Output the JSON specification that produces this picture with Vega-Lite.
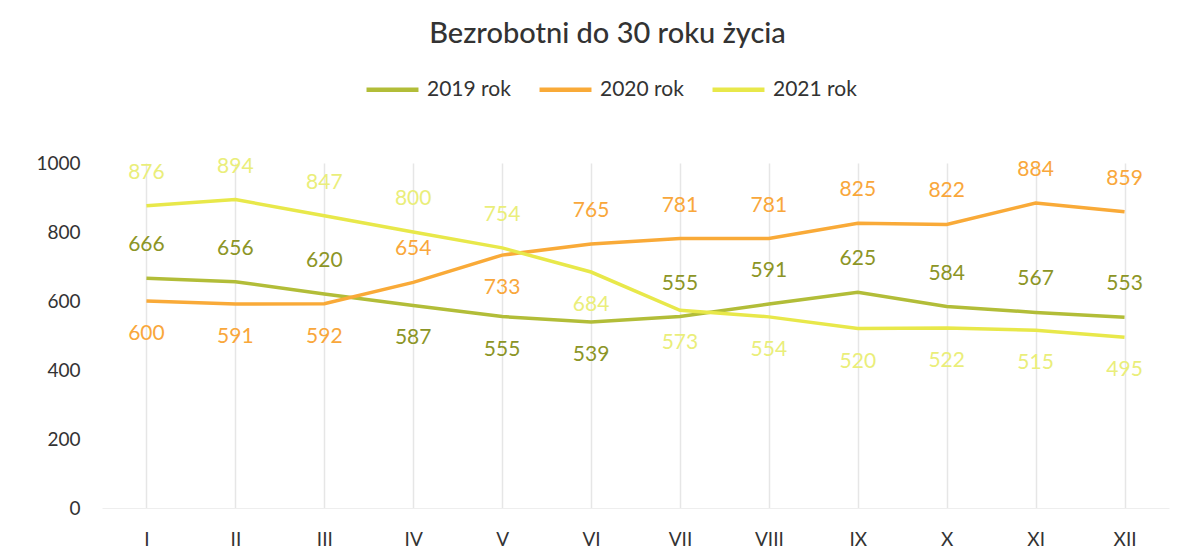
{
  "$schema": "https://vega.github.io/schema/vega-lite/v6.json",
  "autosize": "none",
  "width": 1067,
  "height": 345,
  "padding": {"left": 102, "top": 163, "right": 21, "bottom": 51},
  "background": "white",
  "title": {
    "text": "Bezrobotni do 30 roku życia",
    "font": "Lato",
    "fontSize": 29,
    "fontWeight": 500,
    "color": "#333333",
    "anchor": "middle",
    "frame": "group",
    "dx": -28,
    "offset": 12
  },
  "config": {
    "view": {"stroke": null},
    "font": "Lato"
  },
  "data": {
    "values": [
      {"month": "I", "series": "2019 rok", "value": 666},
      {"month": "II", "series": "2019 rok", "value": 656},
      {"month": "III", "series": "2019 rok", "value": 620},
      {"month": "IV", "series": "2019 rok", "value": 587},
      {"month": "V", "series": "2019 rok", "value": 555},
      {"month": "VI", "series": "2019 rok", "value": 539},
      {"month": "VII", "series": "2019 rok", "value": 555},
      {"month": "VIII", "series": "2019 rok", "value": 591},
      {"month": "IX", "series": "2019 rok", "value": 625},
      {"month": "X", "series": "2019 rok", "value": 584},
      {"month": "XI", "series": "2019 rok", "value": 567},
      {"month": "XII", "series": "2019 rok", "value": 553},
      {"month": "I", "series": "2020 rok", "value": 600},
      {"month": "II", "series": "2020 rok", "value": 591},
      {"month": "III", "series": "2020 rok", "value": 592},
      {"month": "IV", "series": "2020 rok", "value": 654},
      {"month": "V", "series": "2020 rok", "value": 733},
      {"month": "VI", "series": "2020 rok", "value": 765},
      {"month": "VII", "series": "2020 rok", "value": 781},
      {"month": "VIII", "series": "2020 rok", "value": 781},
      {"month": "IX", "series": "2020 rok", "value": 825},
      {"month": "X", "series": "2020 rok", "value": 822},
      {"month": "XI", "series": "2020 rok", "value": 884},
      {"month": "XII", "series": "2020 rok", "value": 859},
      {"month": "I", "series": "2021 rok", "value": 876},
      {"month": "II", "series": "2021 rok", "value": 894},
      {"month": "III", "series": "2021 rok", "value": 847},
      {"month": "IV", "series": "2021 rok", "value": 800},
      {"month": "V", "series": "2021 rok", "value": 754},
      {"month": "VI", "series": "2021 rok", "value": 684},
      {"month": "VII", "series": "2021 rok", "value": 573},
      {"month": "VIII", "series": "2021 rok", "value": 554},
      {"month": "IX", "series": "2021 rok", "value": 520},
      {"month": "X", "series": "2021 rok", "value": 522},
      {"month": "XI", "series": "2021 rok", "value": 515},
      {"month": "XII", "series": "2021 rok", "value": 495}
    ]
  },
  "encoding": {
    "x": {
      "field": "month",
      "type": "ordinal",
      "sort": ["I","II","III","IV","V","VI","VII","VIII","IX","X","XI","XII"],
      "scale": {"type": "point", "padding": 0.5},
      "axis": {
        "title": null,
        "labelAngle": 0,
        "labelFontSize": 19,
        "labelColor": "#333333",
        "labelPadding": 22,
        "ticks": false,
        "domain": true,
        "domainColor": "#eeeeee",
        "grid": true,
        "gridColor": "#e6e6e6",
        "gridWidth": 1.5
      }
    },
    "y": {
      "field": "value",
      "type": "quantitative",
      "scale": {"domain": [0, 1000]},
      "axis": {
        "title": null,
        "values": [0, 200, 400, 600, 800, 1000],
        "format": "d",
        "labelFontSize": 19,
        "labelColor": "#333333",
        "labelPadding": 22,
        "ticks": false,
        "domain": false,
        "grid": false
      }
    }
  },
  "layer": [
    {
      "mark": {"type": "line", "strokeWidth": 3.5},
      "encoding": {
        "color": {
          "field": "series",
          "type": "nominal",
          "scale": {"domain": ["2019 rok", "2020 rok", "2021 rok"], "range": ["#b2bd38", "#f9aa38", "#e8e84a"]},
          "legend": {
            "title": null,
            "orient": "none",
            "legendX": 262,
            "legendY": -102,
            "direction": "horizontal",
            "symbolType": "stroke",
            "symbolSize": 2700,
            "symbolStrokeWidth": 4.5,
            "labelFontSize": 21,
            "labelColor": "#333333",
            "columnPadding": 19,
            "labelOffset": 6
          }
        }
      }
    },
    {
      "transform": [
        {"filter": "!((datum.series == '2019 rok' && indexof(['IV','V','VI'], datum.month) >= 0) || (datum.series == '2020 rok' && indexof(['I','II','III','V'], datum.month) >= 0) || (datum.series == '2021 rok' && indexof(['VI','VII','VIII','IX','X','XI','XII'], datum.month) >= 0))"}
      ],
      "mark": {"type": "text", "dy": -33, "fontSize": 21},
      "encoding": {
        "text": {"field": "value", "type": "quantitative"},
        "color": {
          "field": "series",
          "type": "nominal",
          "scale": {"domain": ["2019 rok", "2020 rok", "2021 rok"], "range": ["#8c9526", "#f9a73b", "#eaee7a"]},
          "legend": null
        }
      }
    },
    {
      "transform": [
        {"filter": "(datum.series == '2019 rok' && indexof(['IV','V','VI'], datum.month) >= 0) || (datum.series == '2020 rok' && indexof(['I','II','III','V'], datum.month) >= 0) || (datum.series == '2021 rok' && indexof(['VI','VII','VIII','IX','X','XI','XII'], datum.month) >= 0)"}
      ],
      "mark": {"type": "text", "dy": 33, "fontSize": 21},
      "encoding": {
        "text": {"field": "value", "type": "quantitative"},
        "color": {
          "field": "series",
          "type": "nominal",
          "scale": {"domain": ["2019 rok", "2020 rok", "2021 rok"], "range": ["#8c9526", "#f9a73b", "#eaee7a"]},
          "legend": null
        }
      }
    }
  ],
  "resolve": {"scale": {"color": "independent"}}
}
